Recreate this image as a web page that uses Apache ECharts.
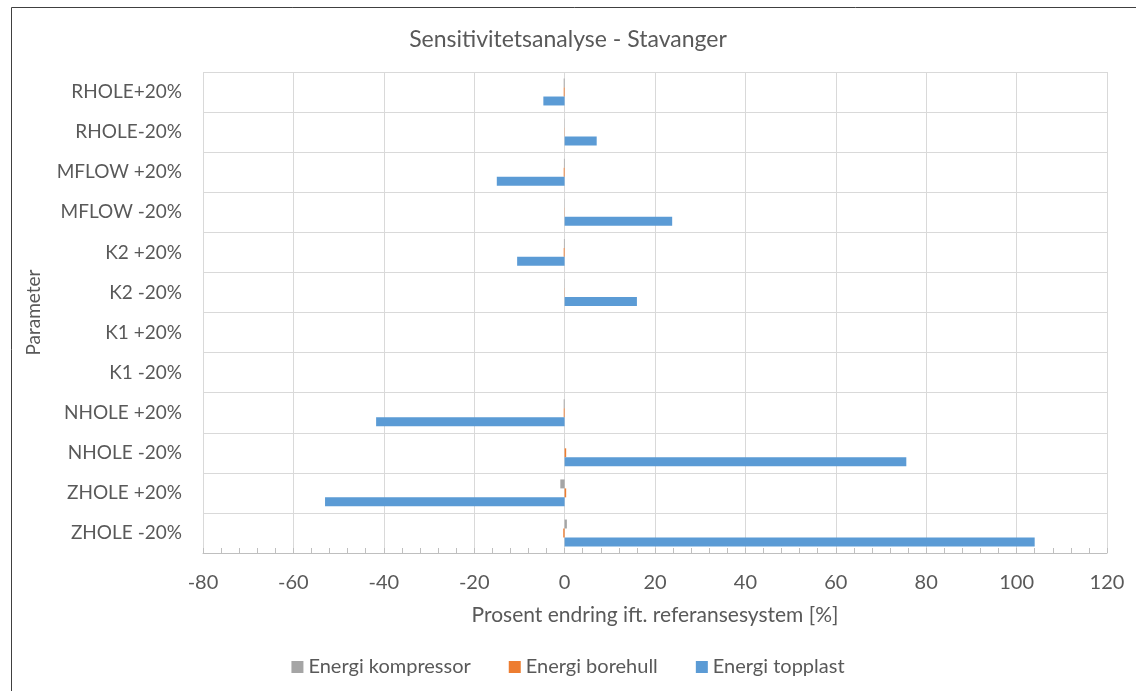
<!DOCTYPE html>
<html>
<head>
<meta charset="utf-8">
<script src="https://cdn.jsdelivr.net/npm/echarts@6/dist/echarts.min.js"></script>
<style>
html,body{margin:0;padding:0;background:#fff;}
#chart{width:1136px;height:691px;}
</style>
</head>
<body>
<div id="chart"></div>
<script>
const categories = ['ZHOLE -20%','ZHOLE +20%','NHOLE -20%','NHOLE +20%','K1 -20%','K1 +20%','K2 -20%','K2 +20%','MFLOW -20%','MFLOW +20%','RHOLE-20%','RHOLE+20%'];
const kompressor = [0.5, -0.95, 0.05, -0.2, 0, 0, 0.05, -0.15, 0.05, -0.15, 0.05, -0.2];
const borehull   = [-0.3, 0.35, 0.35, -0.2, 0, 0, 0.05, -0.2, 0.05, -0.2, 0.05, -0.2];
const topplast   = [104, -53, 75.6, -41.7, 0, 0, 16, -10.5, 23.8, -15, 7.1, -4.7];
const seriesNames = ['Energi kompressor','Energi borehull','Energi topplast'];
const colors = ['#a5a5a5','#ed7d31','#5b9bd5'];
const font = 'Lato';
const txt = '#595959';

const chart = echarts.init(document.getElementById('chart'));
chart.setOption({
  animation: false,
  textStyle: {fontFamily: font, color: txt},
  title: {
    text: 'Sensitivitetsanalyse - Stavanger',
    left: 'center', top: 23,
    textStyle: {fontFamily: font, fontSize: 23, fontWeight: 'normal', color: txt}
  },
  graphic: [{
    type: 'rect', silent: true, z: -1,
    shape: {x: 11.5, y: 7.5, width: 1300, height: 800},
    style: {fill: 'none', stroke: '#404040', lineWidth: 1}
  }],
  legend: {
    data: seriesNames,
    left: 'center', top: 652,
    itemWidth: 12, itemHeight: 12, itemGap: 38,
    icon: 'rect',
    textStyle: {fontFamily: font, fontSize: 20, color: txt}
  },
  grid: {left: 203, right: 29, top: 72, bottom: 138},
  xAxis: {
    type: 'value', min: -80, max: 120, interval: 20,
    name: 'Prosent endring ift. referansesystem [%]',
    nameLocation: 'middle', nameGap: 52,
    nameTextStyle: {fontFamily: font, fontSize: 21, color: txt},
    axisLine: {show: true, lineStyle: {color: '#bfbfbf', width: 1}},
    axisTick: {show: true, inside: true, length: 5, lineStyle: {color: '#bfbfbf'}},
    minorTick: {show: true, splitNumber: 5, length: 5, lineStyle: {color: '#bfbfbf'}},
    axisLabel: {fontFamily: font, fontSize: 20, color: txt, margin: 20},
    splitLine: {show: true, lineStyle: {color: '#d9d9d9', width: 1}}
  },
  yAxis: {
    type: 'category', data: categories,
    name: 'Parameter', nameLocation: 'middle', nameGap: 160, nameRotate: 90,
    nameTextStyle: {fontFamily: font, fontSize: 19, color: txt},
    axisLine: {show: false},
    axisTick: {show: false},
    axisLabel: {fontFamily: font, fontSize: 19, color: txt, margin: 21},
    splitLine: {show: true, lineStyle: {color: '#d9d9d9', width: 1}}
  },
  series: [
    {name: seriesNames[0], type: 'bar', data: kompressor, itemStyle: {color: colors[0]}, barGap: '0%', barCategoryGap: '33%'},
    {name: seriesNames[1], type: 'bar', data: borehull, itemStyle: {color: colors[1]}, barGap: '0%', barCategoryGap: '33%'},
    {name: seriesNames[2], type: 'bar', data: topplast, itemStyle: {color: colors[2]}, barGap: '0%', barCategoryGap: '33%'}
  ]
});
</script>
</body>
</html>
